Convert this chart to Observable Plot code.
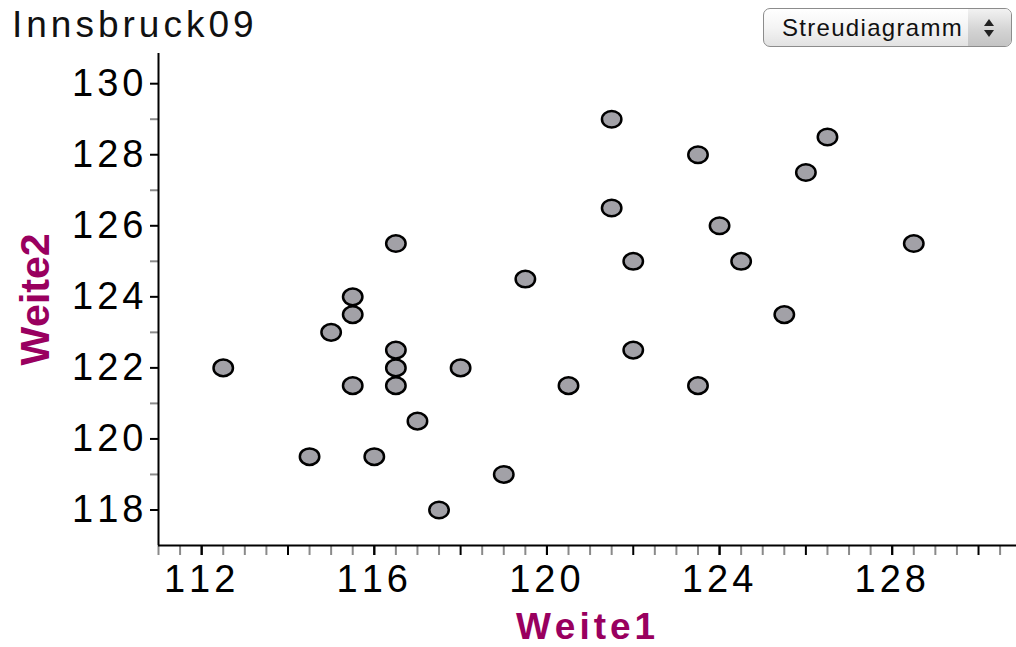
<!DOCTYPE html>
<html>
<head>
<meta charset="utf-8">
<script src="https://cdn.jsdelivr.net/npm/d3@7"></script>
<script src="https://cdn.jsdelivr.net/npm/@observablehq/plot@0.6"></script>
<style>
  html, body { margin: 0; padding: 0; background: #fff; }
  #wrap { position: relative; width: 1016px; height: 647px; overflow: hidden; font-family: "Liberation Sans", Arial, sans-serif; font-kerning: none; }
  #title { position: absolute; left: 12px; top: 6px; font-size: 37px; line-height: 37px; letter-spacing: 4px; color: #111; white-space: nowrap; }
  #menu { position: absolute; left: 763px; top: 8px; width: 247px; height: 37px; border: 1.5px solid #8c8c8c; border-radius: 7px;
          background: linear-gradient(#ffffff, #f4f4f4 50%, #e2e2e2); box-sizing: content-box; overflow: hidden; }
  #menu .lbl { position: absolute; left: 18px; top: 7px; font-size: 24px; line-height: 24px; letter-spacing: 1.3px; color: #111; }
  #menu .btn { position: absolute; right: 0; top: 0; width: 43px; height: 37px; background: linear-gradient(#f2f2f2, #d2d2d2 60%, #c4c4c4); }
  #menu .up { position: absolute; left: 16px; top: 10px; width: 0; height: 0; border-left: 5px solid transparent; border-right: 5px solid transparent; border-bottom: 7px solid #222; }
  #menu .dn { position: absolute; left: 16px; top: 21px; width: 0; height: 0; border-left: 5px solid transparent; border-right: 5px solid transparent; border-top: 7px solid #222; }
  #chart { position: absolute; left: 0; top: 0; }
  #chart svg text { letter-spacing: 4px; font-kerning: none; }
</style>
</head>
<body>
<div id="wrap">
  <div id="chart"></div>
  <div id="title">Innsbruck09</div>
  <div id="menu"><span class="lbl">Streudiagramm</span><div class="btn"><div class="up"></div><div class="dn"></div></div></div>
</div>
<script>
// ---- data ----
const weite1 = [112.5, 114.5, 115, 115.5, 115.5, 115.5, 116, 116.5, 116.5, 116.5, 116.5, 117, 117.5, 118, 119, 119.5, 120.5, 121.5, 121.5, 122, 122, 123.5, 123.5, 124, 124.5, 125.5, 126, 126.5, 128.5];
const weite2 = [122, 119.5, 123, 124, 123.5, 121.5, 119.5, 125.5, 122.5, 122, 121.5, 120.5, 118, 122, 119, 124.5, 121.5, 129, 126.5, 125, 122.5, 128, 121.5, 126, 125, 123.5, 127.5, 128.5, 125.5];
const xLabelTicks = [112, 116, 120, 124, 128];
const xMajorTicks = [112, 114, 116, 118, 120, 122, 124, 126, 128, 130];
const xMinorTicks = [111, 111.5, 112.5, 113, 113.5, 114.5, 115, 115.5, 116.5, 117, 117.5, 118.5, 119, 119.5, 120.5, 121, 121.5, 122.5, 123, 123.5, 124.5, 125, 125.5, 126.5, 127, 127.5, 128.5, 129, 129.5, 130.5];
const yMajorTicks = [118, 120, 122, 124, 126, 128, 130];
const yMinorTicks = [119, 121, 123, 125, 127, 129];
const xTitle = "Weite1";
const yTitle = "Weite2";

const points = weite1.map((w, i) => ({w1: w, w2: weite2[i]}));

const ellipse = {
  draw(context, size) {
    const r = Math.sqrt(size / Math.PI);
    const rx = r * 1.17, ry = r, k = 0.5523;
    context.moveTo(rx, 0);
    context.bezierCurveTo(rx, ry * k, rx * k, ry, 0, ry);
    context.bezierCurveTo(-rx * k, ry, -rx, ry * k, -rx, 0);
    context.bezierCurveTo(-rx, -ry * k, -rx * k, -ry, 0, -ry);
    context.bezierCurveTo(rx * k, -ry, rx, -ry * k, rx, 0);
    context.closePath();
  }
};

const font = "Liberation Sans, Arial, sans-serif";
const xDom = [111, 130.88], yDom = [117, 130.85];
const blank = () => "";

const plot = Plot.plot({
  width: 1016,
  height: 647,
  marginTop: 53,
  marginBottom: 102,
  marginLeft: 158,
  marginRight: 0,
  style: {fontFamily: font, background: "transparent", overflow: "visible"},
  x: {domain: xDom},
  y: {domain: yDom},
  marks: [
    Plot.axisX(xMinorTicks, {anchor: "bottom", tickSize: 10, tickFormat: blank, stroke: "#8a8a8a", strokeWidth: 2, label: null}),
    Plot.axisX(xMajorTicks, {anchor: "bottom", tickSize: 10, tickFormat: blank, stroke: "#000", strokeWidth: 2, label: null}),
    Plot.axisX(xLabelTicks, {anchor: "bottom", tickSize: 10, tickPadding: 10, fontSize: 38, stroke: "#000", strokeWidth: 2, fill: "#000", label: null}),
    Plot.axisY(yMinorTicks, {anchor: "left", tickSize: 8, tickFormat: blank, stroke: "#8a8a8a", strokeWidth: 2, label: null}),
    Plot.axisY(yMajorTicks, {anchor: "left", tickSize: 8, tickPadding: 3, fontSize: 38, stroke: "#000", strokeWidth: 2, fill: "#000", label: null}),
    Plot.ruleY([yDom[0]], {x1: xDom[0], x2: xDom[1], stroke: "#000", strokeWidth: 2}),
    Plot.ruleX([xDom[0]], {y1: yDom[0], y2: yDom[1], stroke: "#000", strokeWidth: 2}),
    Plot.text([xTitle], {frameAnchor: "bottom", dy: 82, lineAnchor: "middle", textAnchor: "middle", text: d => d, fontSize: 37, fontWeight: "bold", fill: "#99005f"}),
    Plot.text([yTitle], {frameAnchor: "left", dx: -123, rotate: -90, lineAnchor: "middle", textAnchor: "middle", text: d => d, fontSize: 41, fontWeight: "bold", fill: "#99005f"}),
    Plot.dot(points, {x: "w1", y: "w2", symbol: ellipse, r: 8.3, fill: "#a2a1a7", stroke: "#000", strokeWidth: 2.5})
  ]
});
document.getElementById("chart").appendChild(plot);
d3.select(plot).selectAll("text").filter(function() { return this.textContent === yTitle; }).style("letter-spacing", "0px");
</script>
</body>
</html>
